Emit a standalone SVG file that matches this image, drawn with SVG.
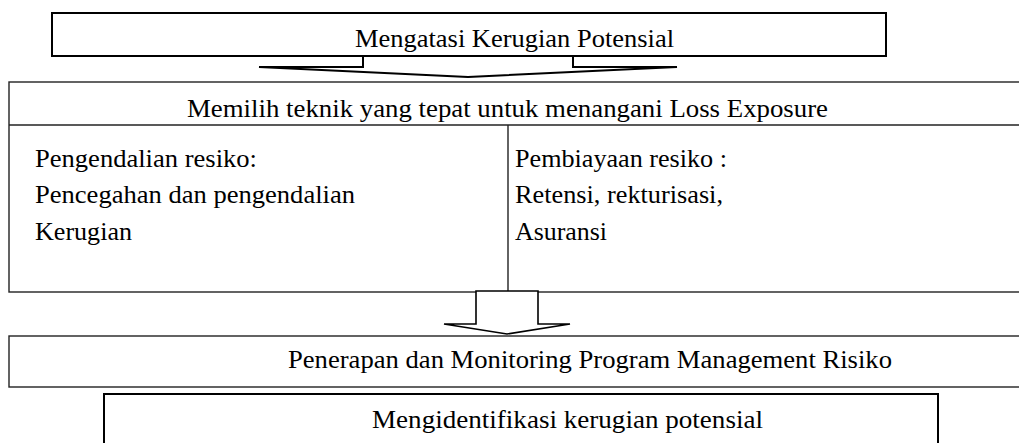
<svg xmlns="http://www.w3.org/2000/svg" width="1019" height="443" viewBox="0 0 1019 443">
<style>
.thick{fill:#fff;stroke:#000;stroke-width:2}
.thin{fill:#fff;stroke:#222;stroke-width:1.4}
.line{fill:none;stroke:#222;stroke-width:1.4}
</style>
<rect width="1019" height="443" fill="#fff"/>
<g id="connectors">
<polygon class="thick" points="363,30 573,30 573,67 677,67 468,77 259,67 363,67"/>
</g>
<g font-family="Liberation Serif, DejaVu Serif, serif" font-size="26" fill="#000">
<g id="node-top">
<rect class="thick" x="52" y="13" width="834" height="43"/>
<text x="355" y="47" textLength="319" lengthAdjust="spacingAndGlyphs">Mengatasi Kerugian Potensial</text>
</g>
<g id="node-main">
<rect class="thin" x="9" y="82" width="1020" height="210"/>
<line class="line" x1="9" y1="125" x2="1030" y2="125"/>
<line class="line" x1="508" y1="125" x2="508" y2="291"/>
<text x="187" y="117" textLength="641" lengthAdjust="spacingAndGlyphs">Memilih teknik yang tepat untuk menangani Loss Exposure</text>
<text x="35" y="167" textLength="222" lengthAdjust="spacingAndGlyphs">Pengendalian resiko:</text>
<text x="35" y="203" textLength="320" lengthAdjust="spacingAndGlyphs">Pencegahan dan pengendalian</text>
<text x="35" y="240" textLength="97" lengthAdjust="spacingAndGlyphs">Kerugian</text>
<text x="515" y="167" textLength="212" lengthAdjust="spacingAndGlyphs">Pembiayaan resiko :</text>
<text x="515" y="203" textLength="208" lengthAdjust="spacingAndGlyphs">Retensi, rekturisasi,</text>
<text x="515" y="240" textLength="92" lengthAdjust="spacingAndGlyphs">Asuransi</text>
</g>
<g id="connector-2">
<polygon class="thin" points="476,291 538,291 538,324 570,324 507,334 444,324 476,324" style="stroke:#000;stroke-width:1.6"/>
</g>
<g id="node-penerapan">
<rect class="thin" x="9" y="336" width="1020" height="51"/>
<text x="288" y="368" textLength="604" lengthAdjust="spacingAndGlyphs">Penerapan dan Monitoring Program Management Risiko</text>
</g>
<g id="node-identifikasi">
<rect class="thick" x="104" y="394" width="834" height="60"/>
<text x="372" y="428" textLength="391" lengthAdjust="spacingAndGlyphs">Mengidentifikasi kerugian potensial</text>
</g>
</g>
</svg>
